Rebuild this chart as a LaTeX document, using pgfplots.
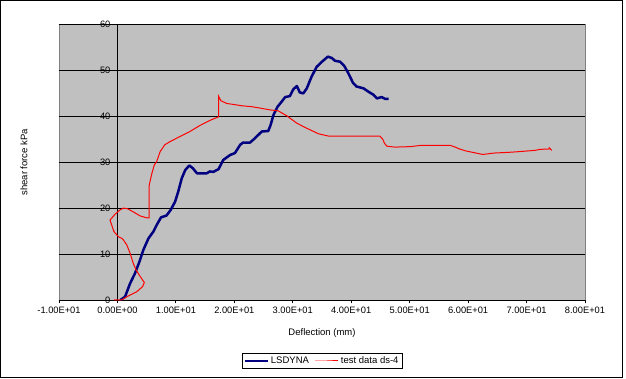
\documentclass[border=0pt]{standalone}
\usepackage{pgfplots}
\pgfplotsset{compat=1.18}
\usepackage{fontspec}
\setmainfont{Liberation Sans}
\usetikzlibrary{calc}
\definecolor{plotgray}{RGB}{192,192,192}
\definecolor{framegray}{RGB}{128,128,128}
\definecolor{navyblue}{RGB}{0,0,128}
\begin{document}
\begin{tikzpicture}
\begin{axis}[
  scale only axis, width=526pt, height=275.5pt,
  xmin=-10, xmax=80, ymin=0, ymax=60,
  axis x line=bottom, axis y line=middle,
  axis line style={-, black, line width=0.8pt},
  hide obscured x ticks=false, hide obscured y ticks=false,
  axis background/.style={fill=plotgray, draw=framegray, line width=0.8pt},
  xtick={-10,0,10,20,30,40,50,60,70,80},
  xticklabels={-1.00E+01,0.00E+00,1.00E+01,2.00E+01,3.00E+01,4.00E+01,5.00E+01,6.00E+01,7.00E+01,8.00E+01},
  ytick={0,10,20,30,40,50,60},
  ymajorgrids, major grid style={black, line width=0.8pt},
  tick align=outside, major tick length=3.5pt,
  tick style={black, line width=0.8pt},
  /pgf/number format/assume math mode=true,
  tick label style={font=\fontsize{9.3}{10}\selectfont},
  xlabel={Deflection (mm)}, ylabel={shear force kPa},
  every axis x label/.style={at={(axis description cs:0.5,-0.12)}, anchor=center, font=\fontsize{9.5}{11}\selectfont},
  every axis y label/.style={at={(axis description cs:-0.0665,0.5)}, rotate=90, anchor=center, font=\fontsize{9.5}{11}\selectfont},
  legend columns=2,
  legend style={at={(axis description cs:0.5,-0.2214)}, anchor=center,
    font=\fontsize{9.5}{11}\selectfont, inner sep=1.5pt,
    /tikz/every even column/.append style={column sep=4pt}},
  legend image code/.code={\draw[mark repeat=2,mark phase=2,#1] plot coordinates {(0pt,0pt) (11.5pt,0pt) (23pt,0pt)};},
  clip=false,
]
\addplot[color=navyblue, line width=2.5pt, line join=round] coordinates {
(0.5,0) (1.3,0.7) (2.16,3.6) (3.0,5.8) (3.75,8.3) (4.43,10.9) (5.3,13.4) (6.15,14.9)
(6.7,16.3) (7.46,18.0) (8.4,18.4) (9.1,19.6) (9.86,21.4) (10.4,23.6) (11.0,26.5) (11.6,28.3)
(12.3,29.3) (12.9,28.7) (13.6,27.6) (15.3,27.6) (15.8,28.0) (16.4,27.9) (17.3,28.5) (18.1,30.5)
(19.3,31.6) (20.1,32.0) (21.0,33.8) (21.5,34.3) (22.7,34.3) (23.5,35.2) (24.7,36.7) (25.8,36.8)
(26.2,38.1) (26.7,40.3) (27.4,42.1) (28.1,43.2) (28.7,44.2) (29.5,44.4) (30.1,45.9) (30.7,46.6)
(31.2,45.2) (31.8,45.0) (32.4,46.1) (33.2,48.6) (34.1,50.8) (35.0,51.9) (36.0,53.0) (36.7,52.7)
(37.2,52.1) (38.1,51.9) (38.8,51.0) (39.5,49.4) (40.3,47.3) (40.9,46.5) (42.1,46.1) (42.9,45.4)
(43.8,44.7) (44.4,43.9) (45.2,44.2) (45.8,43.8) (46.4,43.8)
};
\addlegendentry{LSDYNA}
\addplot[color=red, line width=1pt] coordinates {
(-0.6,0) (0.7,0) (1.6,0.7) (3.3,1.8) (4.3,2.9) (4.6,3.8) (3.9,5.1) (3.2,6.5) (2.7,8.0)
(2.16,10.2) (1.6,12.0) (0.9,13.3) (0.16,13.8) (-0.6,14.9) (-1.27,17.4) (-0.4,18.7) (0.44,19.6)
(1.0,20.0) (1.7,19.9) (2.7,19.2) (3.9,18.3) (5.0,17.9) (5.4,17.9) (5.4,24.7) (5.5,25.4)
(5.9,27.6) (6.3,29.4) (6.7,30.1) (7.3,32.3) (8.1,33.8) (9.0,34.5) (10.7,35.6) (12.4,36.7)
(14.1,38.0) (15.8,39.1) (17.3,39.9) (17.3,44.4) (17.7,43.4) (18.7,42.8) (19.8,42.6) (21.3,42.3)
(23.0,42.1) (24.4,41.8) (26.1,41.4) (27.5,41.2) (29.0,40.1) (30.7,38.5) (32.4,37.4) (34.4,36.2)
(36.1,35.7) (44.9,35.7) (45.4,35.0) (45.7,34.1) (46.1,33.5) (47.5,33.3) (50.1,33.4) (52.1,33.7)
(56.9,33.7) (57.8,33.3) (58.3,33.0) (59.5,32.5) (60.6,32.2) (62.5,31.7) (64.4,32.0) (67.5,32.2)
(69.6,32.4) (71.5,32.6) (72.3,32.8) (73.9,32.9) (73.9,33.1) (74.3,32.6)
};
\addlegendentry{test data ds-4}
\end{axis}
\draw[black, line width=0.9pt] ([shift={(-58.5pt,-77.7pt)}]current axis.south west) rectangle ([shift={(37.7pt,24pt)}]current axis.north east);
\path ([shift={(-59pt,-79pt)}]current axis.south west) rectangle ([shift={(41pt,24.5pt)}]current axis.north east);
\end{tikzpicture}
\end{document}
